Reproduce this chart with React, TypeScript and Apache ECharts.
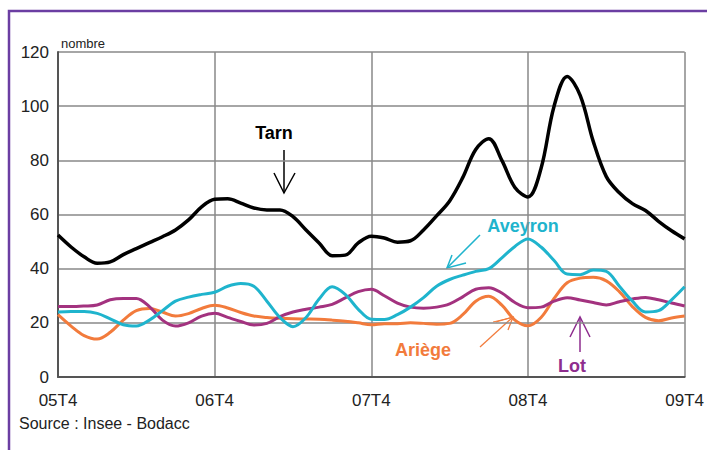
import React, { useEffect, useRef } from "react";
import * as echarts from "echarts";

// Months from 05T4 (index 0) to 09T4 (index 48)
const tickLabels = ["05T4", "06T4", "07T4", "08T4", "09T4"];

const tarn = [
  52.4, 48, 44.4, 42, 42.5, 45.2, 47.4, 49.6, 51.8, 54.3, 58, 62.8, 65.6,
  65.8, 64.2, 62.4, 61.7, 61.7, 59.2, 54.3, 49.5, 44.8, 45, 49.5, 52,
  51.3, 49.8, 50.3, 54.3, 59.5, 65, 73.6, 84, 88, 80, 70, 66.5,
  77, 100, 111, 104, 87, 74, 68, 64, 61.5, 57.5, 54, 51,
];
const aveyron = [
  24, 24.2, 24.2, 23.5, 21.5, 19.3, 18.8, 21, 24.5, 28, 29.5, 30.5, 31.3,
  33.5, 34.5, 33.5, 28, 22, 18.6, 22, 28.8, 33.3, 30.5, 25, 21.3,
  21.2, 23, 25.8, 29.3, 33.5, 36, 37.6, 39, 40, 44, 48.2, 51,
  48, 43, 38, 37.8, 39.5, 39, 33.5, 28, 24, 24.5, 28.5, 33.3,
];
const lot = [
  26, 26, 26.2, 26.6, 28.5, 29, 29, 26, 21, 18.8, 20, 22.5, 23.5,
  22, 20.5, 19.2, 19.8, 22.3, 24, 25, 25.8, 26.8, 29.2, 31.5, 32.4,
  30, 27.3, 25.8, 25.4, 25.8, 27, 29.6, 32.4, 33, 31, 27.5, 25.6,
  25.8, 28, 29.3, 28.4, 27.5, 26.6, 27.8, 28.8, 29.4, 28.5, 27.3, 26.2,
];
const ariege = [
  23, 18.8, 15.3, 14, 16.5, 21, 24.5, 25.3, 24, 22.5, 23.4, 25.3, 26.5,
  25.5, 23.8, 22.5, 22, 21.7, 21.5, 21.4, 21.3, 21, 20.6, 20, 19.3,
  19.7, 19.7, 20, 19.8, 19.5, 19.8, 23, 28, 29.8, 26.5, 21, 18.9,
  22, 29, 34.8, 36.5, 36.8, 35.5, 31.5, 26, 22, 20.8, 21.8, 22.5,
];

const seriesNames = ["Tarn", "Aveyron", "Lot", "Ariège"];
const seriesColors = ["#000000", "#1fb4cd", "#a3327f", "#f27b3c"];
const seriesData = [tarn, aveyron, lot, ariege];
const seriesWidths = [3.5, 3, 3, 3];

const FONT = "Liberation Sans, Arial, sans-serif";

function arrow(x1: number, y1: number, x2: number, y2: number, color: string, w: number, head: number[][]) {
  const els: any[] = [
    { type: "line", shape: { x1, y1, x2, y2 }, style: { stroke: color, lineWidth: w } },
  ];
  els.push({
    type: "polyline",
    shape: { points: [head[0], [x2, y2], head[1]] },
    style: { stroke: color, lineWidth: w, fill: null },
  });
  return els;
}

export default function App() {
  const ref = useRef<HTMLDivElement>(null);
  useEffect(() => {
    if (!ref.current) return;
    const chart = echarts.init(ref.current, null, { renderer: "svg" });
    const series = seriesData.map((d, i) => ({
      name: seriesNames[i],
      type: "line",
      data: d.map((v, j) => [j, v]),
      smooth: 0.35,
      showSymbol: false,
      lineStyle: { color: seriesColors[i], width: seriesWidths[i] },
      itemStyle: { color: seriesColors[i] },
      z: 10 - i,
    }));
    chart.setOption({
      animation: false,
      backgroundColor: "#ffffff",
      textStyle: { fontFamily: FONT },
      grid: { left: 58, right: 19, top: 52, bottom: 73 },
      xAxis: {
        type: "value",
        min: 0,
        max: 48,
        interval: 12,
        axisLine: { show: true, lineStyle: { color: "#555", width: 2 } },
        axisTick: { show: false },
        splitLine: { show: true, lineStyle: { color: "#888", width: 1.5 } },
        axisLabel: {
          fontSize: 17,
          color: "#222",
          fontFamily: FONT,
          margin: 15,
          formatter: (v: number) => tickLabels[Math.round(v / 12)] ?? "",
        },
      },
      yAxis: {
        type: "value",
        min: 0,
        max: 120,
        interval: 20,
        axisLine: { show: true, lineStyle: { color: "#555", width: 2 } },
        axisTick: { show: false },
        splitLine: { show: true, lineStyle: { color: "#888", width: 1.5 } },
        axisLabel: { fontSize: 17, color: "#222", fontFamily: FONT, margin: 9 },
      },
      series,
      graphic: [
        {
          type: "rect",
          shape: { x: 9, y: 11, width: 720, height: 470 },
          style: { stroke: "#6b3ea2", lineWidth: 2.5, fill: null },
          silent: true,
        },
        {
          type: "text",
          x: 61,
          y: 43,
          style: { text: "nombre", fontSize: 13, fill: "#222", fontFamily: FONT, textVerticalAlign: "middle" },
        },
        {
          type: "text",
          x: 19,
          y: 423,
          style: { text: "Source : Insee - Bodacc", fontSize: 16, fill: "#222", fontFamily: FONT, textVerticalAlign: "middle" },
        },
        {
          type: "text",
          x: 274,
          y: 133,
          style: { text: "Tarn", fontSize: 18, fontWeight: "bold", fill: "#000", fontFamily: FONT, align: "center", verticalAlign: "middle" },
        },
        ...arrow(284, 150, 284, 193, "#000", 1.5, [[274, 173], [295, 173]]),
        {
          type: "text",
          x: 523,
          y: 226,
          style: { text: "Aveyron", fontSize: 18, fontWeight: "bold", fill: "#1fb4cd", fontFamily: FONT, align: "center", verticalAlign: "middle" },
        },
        ...arrow(480, 235, 447, 268, "#1fb4cd", 1.5, [[452, 255], [466, 263]]),
        {
          type: "text",
          x: 423,
          y: 350,
          style: { text: "Ariège", fontSize: 18, fontWeight: "bold", fill: "#f27b3c", fontFamily: FONT, align: "center", verticalAlign: "middle" },
        },
        ...arrow(480, 347, 513, 317, "#f27b3c", 1.3, [[496, 322], [508, 330]]),
        { type: "line", shape: { x1: 493, y1: 322, x2: 510, y2: 318 }, style: { stroke: "#f27b3c", lineWidth: 1 } },
        {
          type: "text",
          x: 572,
          y: 366,
          style: { text: "Lot", fontSize: 18, fontWeight: "bold", fill: "#8e2d8e", fontFamily: FONT, align: "center", verticalAlign: "middle" },
        },
        ...arrow(580, 352, 580, 317, "#8e2d8e", 1.5, [[570, 337], [590, 337]]),
      ],
    });
    return () => chart.dispose();
  }, []);
  return (
    <div
      ref={ref}
      style={{ position: "fixed", left: 0, top: 0, width: 707, height: 450 }}
    />
  );
}
